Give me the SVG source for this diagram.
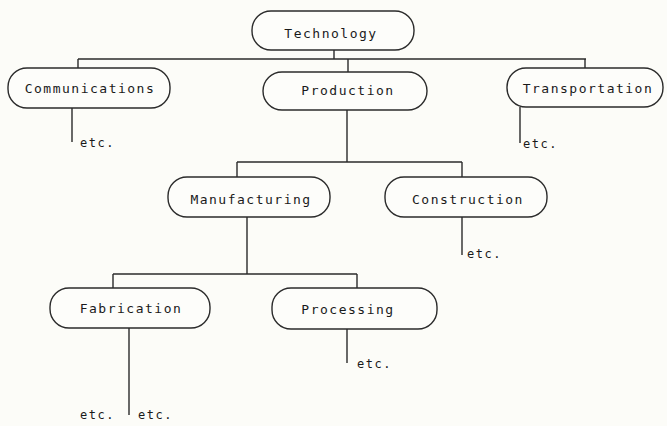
<svg xmlns="http://www.w3.org/2000/svg" width="667" height="426" viewBox="0 0 667 426">
<style>
.bg{fill:#fcfcf8}
.box{fill:#fdfdfa;stroke:#2b2b2b;stroke-width:1.4}
.lbl{font-family:"DejaVu Sans Mono","Liberation Mono",monospace;font-size:13px;letter-spacing:1.5px;fill:#1a1a1a;text-anchor:middle}
.etc{font-family:"DejaVu Sans Mono","Liberation Mono",monospace;font-size:12px;letter-spacing:1.5px;fill:#1a1a1a}
.ln{stroke:#2b2b2b;stroke-width:1.4;fill:none}
</style>
<rect class="bg" x="0" y="0" width="667" height="426"/>
<g id="connectors">
<path class="ln" d="M334 50V59M78 59H586M78 59V68M348 59V72M585 59V68"/>
<path class="ln" d="M72 108V142M520 107V143"/>
<path class="ln" d="M347 110V162M237 162H462M237 162V177M462 162V177"/>
<path class="ln" d="M462 217V255"/>
<path class="ln" d="M247 217V274M113 274H357M113 274V288M357 274V288"/>
<path class="ln" d="M129 328V415M347 328V363"/>
</g>
<g id="technology"><rect class="box" x="252" y="11" width="162" height="39" rx="19"/><text class="lbl" x="331" y="38">Technology</text></g>
<g id="communications"><rect class="box" x="8" y="68" width="162" height="40" rx="19"/><text class="lbl" x="90" y="93">Communications</text></g>
<g id="production"><rect class="box" x="263" y="72" width="164" height="38" rx="19"/><text class="lbl" x="348" y="95">Production</text></g>
<g id="transportation"><rect class="box" x="507" y="68" width="156" height="39" rx="19"/><text class="lbl" x="588" y="93">Transportation</text></g>
<g id="manufacturing"><rect class="box" x="168" y="177" width="162" height="40" rx="19"/><text class="lbl" x="251" y="204">Manufacturing</text></g>
<g id="construction"><rect class="box" x="385" y="177" width="162" height="40" rx="19"/><text class="lbl" x="468" y="204">Construction</text></g>
<g id="fabrication"><rect class="box" x="50" y="288" width="160" height="40" rx="19"/><text class="lbl" x="131" y="313">Fabrication</text></g>
<g id="processing"><rect class="box" x="272" y="288" width="165" height="41" rx="19"/><text class="lbl" x="348" y="314">Processing</text></g>
<g id="etc-labels">
<text class="etc" x="80" y="147">etc.</text>
<text class="etc" x="523" y="148">etc.</text>
<text class="etc" x="467" y="258">etc.</text>
<text class="etc" x="357" y="368">etc.</text>
<text class="etc" x="80" y="419">etc.</text>
<text class="etc" x="138" y="419">etc.</text>
</g>
</svg>
